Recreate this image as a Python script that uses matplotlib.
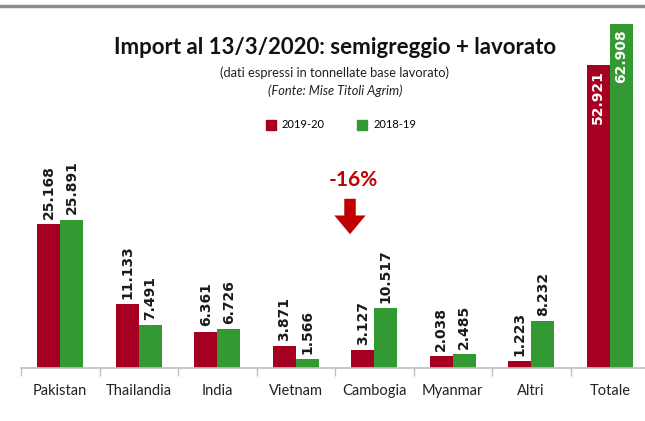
import matplotlib.pyplot as plt
from matplotlib.lines import Line2D
from matplotlib.patches import FancyArrowPatch
import numpy as np

# Data
paesi = ['Pakistan', 'Thailandia', 'India', 'Vietnam', 'Cambogia', 'Myanmar', 'Altri', 'Totale']
imp_2019_20 = [25168, 11133, 6361, 3871, 3127, 2038, 1223, 52921]
imp_2018_19 = [25891, 7491, 6726, 1566, 10517, 2485, 8232, 62908]
etichette_19 = ['25.168', '11.133', '6.361', '3.871', '3.127', '2.038', '1.223', '52.921']
etichette_18 = ['25.891', '7.491', '6.726', '1.566', '10.517', '2.485', '8.232', '62.908']
rosso = '#A50021'
verde = '#339933'
ymax = 60000  # asse tagliato come nell'originale

fig = plt.figure(figsize=(6.45, 4.21), dpi=100)
ax = fig.add_axes([21/645, 53/421, 628/645, 344/421])

x = np.arange(len(paesi))
w = 0.29
b1 = ax.bar(x - w/2, imp_2019_20, w, color=rosso, label='2019-20')
b2 = ax.bar(x + w/2, imp_2018_19, w, color=verde, label='2018-19')

ax.set_xlim(-0.5, len(paesi) - 0.5)
ax.set_ylim(0, ymax)

# etichette valori (verticali)
for bars, etich in [(b1, etichette_19), (b2, etichette_18)]:
    for bar, t in zip(bars, etich):
        h = bar.get_height()
        xc = bar.get_x() + bar.get_width()/2
        if h > 40000:
            ax.text(xc, min(h, ymax) - 900, t, rotation=90, ha='center', va='top',
                    fontsize=10, fontweight='bold', color='white')
        else:
            ax.text(xc, h + 900, t, rotation=90, ha='center', va='bottom',
                    fontsize=10, fontweight='bold', color='#1a1a1a')

# assi
for s in ['top', 'right', 'left']:
    ax.spines[s].set_visible(False)
ax.spines['bottom'].set_color('#bfbfbf')
ax.spines['bottom'].set_linewidth(1.2)
ax.set_yticks([])
ax.set_xticks(np.arange(len(paesi) + 1) - 0.5)
ax.set_xticklabels([])
ax.tick_params(axis='x', length=6, color='#bfbfbf', width=1)
for i, p in enumerate(paesi):
    ax.text(i, -2800, p, ha='center', va='top', fontsize=10.5, family='Lato', color='#222222')

# titoli
fig.text(335/645, 1 - 47/421, 'Import al 13/3/2020: semigreggio + lavorato', ha='center', va='center',
         fontsize=16, fontweight='bold', family='Lato', color='#111111')
fig.text(335/645, 1 - 73/421, '(dati espressi in tonnellate base lavorato)', ha='center', va='center',
         fontsize=9.3, family='Lato', color='#222222')
fig.text(335/645, 1 - 91/421, '(Fonte: Mise Titoli Agrim)', ha='center', va='center',
         fontsize=9.3, family='Lato', style='italic', color='#222222')

# legenda
handles = [Line2D([], [], marker='s', ls='', color=rosso, markersize=7),
           Line2D([], [], marker='s', ls='', color=verde, markersize=7)]
fig.legend(handles, ['2019-20', '2018-19'], loc='center', bbox_to_anchor=(338/645, 1 - 125/421),
           ncol=2, frameon=False, handletextpad=0.0, columnspacing=2.4,
           prop={'family': 'Lato', 'size': 8})

# -16% e freccia
fig.text(353/645, 1 - 180/421, '-16%', ha='center', va='center', fontsize=15,
         fontweight='bold', family='Lato', color='#C00000')
fig.patches.append(FancyArrowPatch(
    (350/645, 1 - 196/421), (350/645, 1 - 237/421), transform=fig.transFigure,
    arrowstyle='simple,head_length=0.9,head_width=1.5,tail_width=0.55',
    mutation_scale=15, color='#C00000', lw=0))

# linea grigia in alto
fig.add_artist(Line2D([0, 1], [1 - 6/421, 1 - 6/421], transform=fig.transFigure,
                      color='#8c8c8c', lw=2.5))

plt.savefig('out.png', dpi=100)
